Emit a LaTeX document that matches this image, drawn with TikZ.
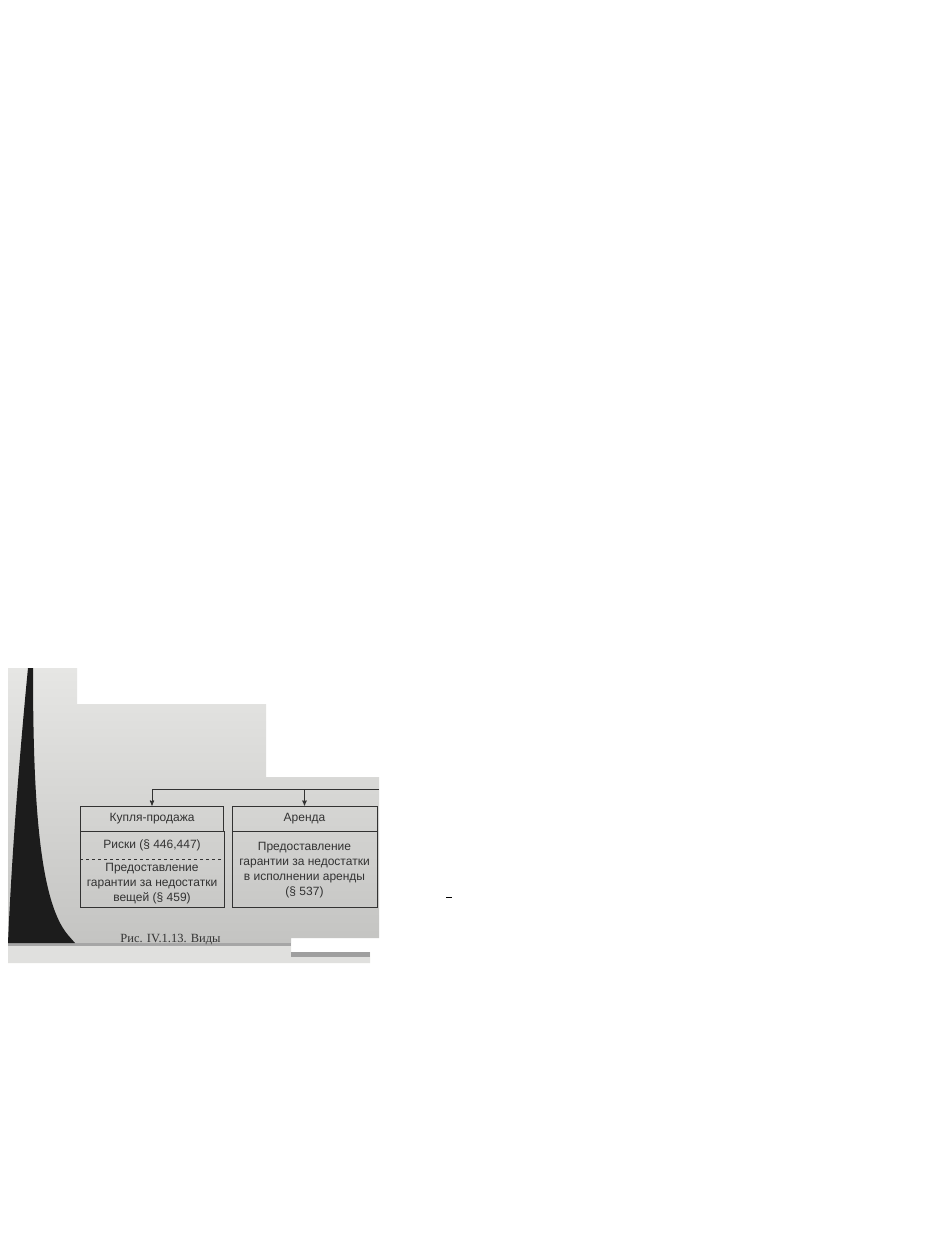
\documentclass[tikz,border=0pt]{standalone}
\usepackage{fontspec}
\setmainfont{Liberation Sans}
\newfontfamily\capfont{Liberation Serif}
\usetikzlibrary{arrows,positioning}
\definecolor{pagetop}{RGB}{230,230,228}
\definecolor{pagelow}{RGB}{196,196,194}
\definecolor{pagestrip}{RGB}{224,224,222}
\definecolor{spine}{RGB}{28,28,28}
\definecolor{ink}{RGB}{50,50,50}

\begin{document}
\begin{tikzpicture}[x=1pt,y=-1pt,->,>=stealth',line width=0.9pt,draw=ink,
  every node/.style={font=\fontsize{12}{15}\selectfont,align=center,inner sep=1pt,text=ink}]
\tikzstyle{titlebox}=[draw,minimum height=25pt]
\tikzstyle{partbox}=[minimum width=143pt,outer sep=0pt]

\useasboundingbox (0,0) rectangle (935,1233);
\fill[white] (0,0) rectangle (935,1233);

% photo of the page
\shade[top color=pagetop,bottom color=pagelow]
  (8,668) -- (77,668) -- (77,704) -- (266,704) -- (266,777) -- (379,777)
  -- (379,938) -- (291,938) -- (291,943) -- (8,943) -- cycle;
\fill[pagestrip] (8,943) -- (291,943) -- (291,952) -- (370,952) -- (370,963) -- (8,963) -- cycle;
\fill[gray!70] (8,943) rectangle (291,946);
\fill[gray!75] (291,952) rectangle (370,957);
\fill[spine] (28,668) -- (33,668) .. controls (33,790) and (38,900) .. (68,935)
  -- (75,943) -- (8,943) .. controls (12,850) and (20,750) .. (28,668) -- cycle;

% boxes
\node[titlebox,minimum width=143pt] (kp) at (152,818.5) {Купля-продажа};
\node[partbox,minimum height=28pt,below=0pt of kp] (risk) {Риски (§ 446,447)};
\node[partbox,minimum height=48pt,below=0pt of risk] (give)
  {Предоставление\\гарантии за недостатки\\вещей (§ 459)};
\node[titlebox,minimum width=145pt] (ar) at (304.5,818.5) {Аренда};
\node[titlebox,minimum width=145pt,minimum height=76pt,below=0pt of ar] (arbody)
  {Предоставление\\гарантии за недостатки\\в исполнении аренды\\(§ 537)};

\draw[-] (kp.south west) rectangle (give.south -| kp.east);
\draw[-,dashed] (risk.south -| kp.west) -- (risk.south -| kp.east);

% connectors
\coordinate (bus) at (379,789);
\draw (bus) -| (kp);
\draw (bus -| ar) -- (ar);

% caption
\node[font=\capfont\fontsize{12.5}{14}\selectfont,anchor=west,text=black!80] (cap) at (119,940) {Рис. IV.1.13. Виды};

\draw[-,black] (446,897) -- (452,897);
\end{tikzpicture}
\end{document}
